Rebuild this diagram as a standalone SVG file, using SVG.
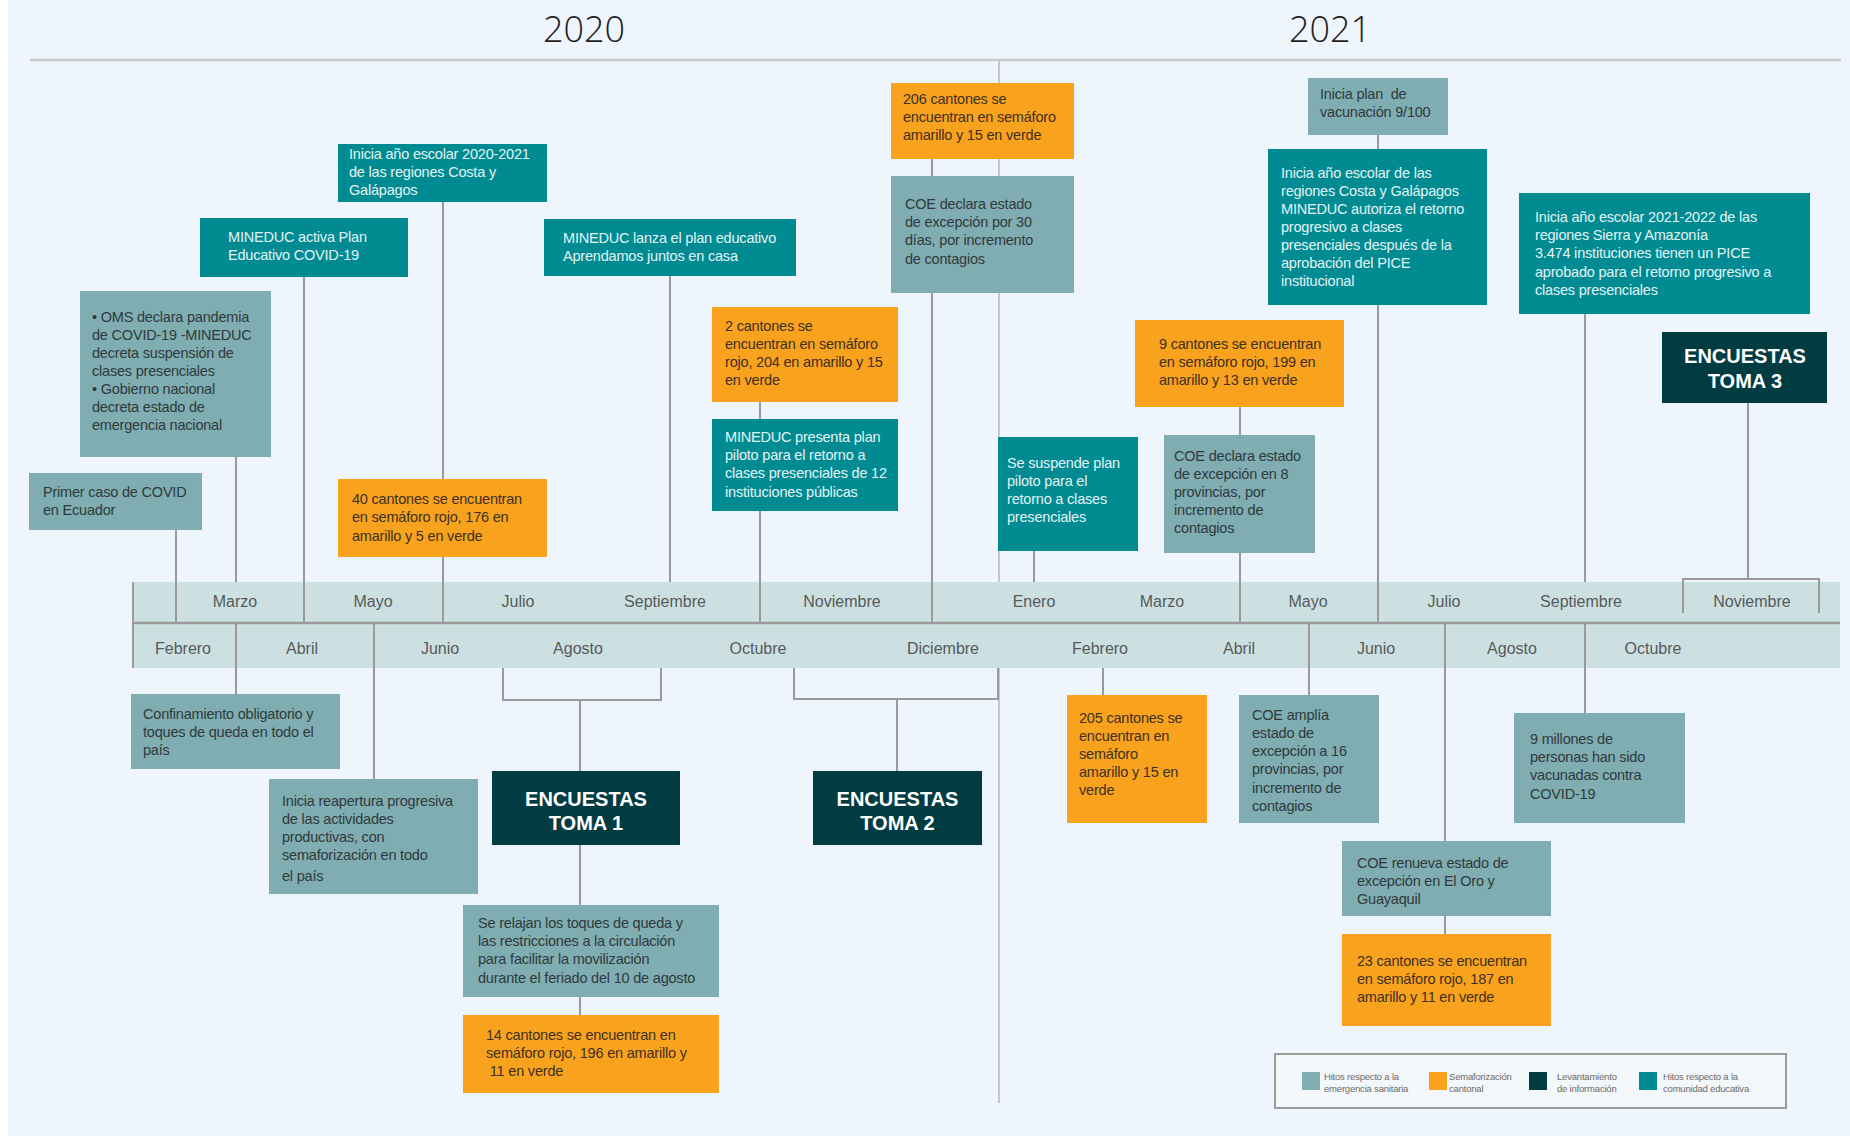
<svg xmlns="http://www.w3.org/2000/svg" width="1850" height="1136" viewBox="0 0 1850 1136">
<style>
.t{font-family:"Liberation Sans",Arial,sans-serif;font-size:14.5px;letter-spacing:-0.2px}
.dk{fill:#2f3a3c}
.lt{fill:#e3f3f3}
.or{fill:#3e3120}
.hd{font-family:"Liberation Sans",Arial,sans-serif;font-size:20px;font-weight:bold;fill:#ffffff;text-anchor:middle}
.mo{font-family:"Liberation Sans",Arial,sans-serif;font-size:16px;fill:#555a5c;text-anchor:middle}
.yr{font-family:"Open Sans","Liberation Sans",sans-serif;font-size:36px;font-weight:300;fill:#1e1e1e;text-anchor:middle}
.lg{font-family:"Liberation Sans",Arial,sans-serif;font-size:9.5px;fill:#6a6a6a;letter-spacing:-0.2px}
.g{fill:#7fadb1}
.o{fill:#f8a21e}
.d{fill:#013c43}
.e{fill:#008b93}
.c{stroke:#9a9a9a;stroke-width:2;fill:none}
</style>
<rect x="0" y="0" width="1850" height="1136" fill="#ffffff"/>
<rect x="8" y="0" width="1842" height="1136" fill="#eef5fc"/>
<line x1="30" y1="60" x2="1841" y2="60" stroke="#c8c9ca" stroke-width="2.5"/>
<text class="yr" x="584" y="42">2020</text>
<text class="yr" x="1330" y="42">2021</text>
<line x1="999" y1="60" x2="999" y2="1103" stroke="#c3c7ca" stroke-width="2"/>

<g id="timeline">
<rect x="133" y="582" width="1707" height="86" fill="#cde0e1"/>
<line x1="133" y1="623" x2="1840" y2="623" stroke="#9a9a9a" stroke-width="2.5"/>
<line x1="133" y1="582" x2="133" y2="668" stroke="#9a9a9a" stroke-width="2"/>
<text class="mo" x="235" y="607">Marzo</text>
<text class="mo" x="373" y="607">Mayo</text>
<text class="mo" x="518" y="607">Julio</text>
<text class="mo" x="665" y="607">Septiembre</text>
<text class="mo" x="842" y="607">Noviembre</text>
<text class="mo" x="1034" y="607">Enero</text>
<text class="mo" x="1162" y="607">Marzo</text>
<text class="mo" x="1308" y="607">Mayo</text>
<text class="mo" x="1444" y="607">Julio</text>
<text class="mo" x="1581" y="607">Septiembre</text>
<text class="mo" x="1752" y="607">Noviembre</text>
<text class="mo" x="183" y="654">Febrero</text>
<text class="mo" x="302" y="654">Abril</text>
<text class="mo" x="440" y="654">Junio</text>
<text class="mo" x="578" y="654">Agosto</text>
<text class="mo" x="758" y="654">Octubre</text>
<text class="mo" x="943" y="654">Diciembre</text>
<text class="mo" x="1100" y="654">Febrero</text>
<text class="mo" x="1239" y="654">Abril</text>
<text class="mo" x="1376" y="654">Junio</text>
<text class="mo" x="1512" y="654">Agosto</text>
<text class="mo" x="1653" y="654">Octubre</text>
</g>

<g id="connectors" class="c">
<path d="M443 202V479M443 557V623"/>
<path d="M304 277V623"/>
<path d="M236 457V582M236 623V694"/>
<path d="M176 530V623"/>
<path d="M374 623V779"/>
<path d="M503 668V700H661V668M580 700V771M580 845V905M580 997V1015"/>
<path d="M670 276V582"/>
<path d="M760 402V419M760 511V623"/>
<path d="M932 159V176M932 293V623"/>
<path d="M1034 551V582"/>
<path d="M1240 407V435M1240 553V623"/>
<path d="M1378 135V149M1378 305V623"/>
<path d="M1585 314V582M1585 623V713"/>
<path d="M1748 403V579M1683 613V579H1819V613"/>
<path d="M794 668V699H998V668M897 699V771"/>
<path d="M1103 668V695"/>
<path d="M1309 623V695"/>
<path d="M1445 623V841M1445 916V934"/>
</g>

<g id="n1"><rect class="e" x="338" y="144" width="209" height="58"/>
<text class="t lt"><tspan x="349" y="159">Inicia año escolar 2020-2021</tspan><tspan x="349" y="177">de las regiones Costa y</tspan><tspan x="349" y="195">Galápagos</tspan></text></g>

<g id="n2"><rect class="e" x="200" y="218" width="208" height="59"/>
<text class="t lt"><tspan x="228" y="242">MINEDUC activa Plan</tspan><tspan x="228" y="260">Educativo COVID-19</tspan></text></g>

<g id="n3"><rect class="g" x="80" y="291" width="191" height="166"/>
<text class="t dk"><tspan x="92" y="322">• OMS declara pandemia</tspan><tspan x="92" y="340">de COVID-19 -MINEDUC</tspan><tspan x="92" y="358">decreta suspensión de</tspan><tspan x="92" y="376">clases presenciales</tspan><tspan x="92" y="394">• Gobierno nacional</tspan><tspan x="92" y="412">decreta estado de</tspan><tspan x="92" y="430">emergencia nacional</tspan></text></g>

<g id="n4"><rect class="g" x="29" y="473" width="173" height="57"/>
<text class="t dk"><tspan x="43" y="497">Primer caso de COVID</tspan><tspan x="43" y="515">en Ecuador</tspan></text></g>

<g id="n5"><rect class="o" x="338" y="479" width="209" height="78"/>
<text class="t or"><tspan x="352" y="504">40 cantones se encuentran</tspan><tspan x="352" y="522">en semáforo rojo, 176 en</tspan><tspan x="352" y="541">amarillo y 5 en verde</tspan></text></g>

<g id="n6"><rect class="g" x="131" y="694" width="209" height="75"/>
<text class="t dk"><tspan x="143" y="719">Confinamiento obligatorio y</tspan><tspan x="143" y="737">toques de queda  en todo el</tspan><tspan x="143" y="755">país</tspan></text></g>

<g id="n7"><rect class="g" x="269" y="779" width="209" height="115"/>
<text class="t dk"><tspan x="282" y="806">Inicia reapertura progresiva</tspan><tspan x="282" y="824">de las actividades</tspan><tspan x="282" y="842">productivas, con</tspan><tspan x="282" y="860">semaforización en todo</tspan><tspan x="282" y="881">el país</tspan></text></g>

<g id="toma1"><rect class="d" x="492" y="771" width="188" height="74"/>
<text class="hd"><tspan x="586" y="806">ENCUESTAS</tspan><tspan x="586" y="830">TOMA 1</tspan></text></g>

<g id="n9"><rect class="g" x="463" y="905" width="256" height="92"/>
<text class="t dk"><tspan x="478" y="928">Se relajan los toques de queda y</tspan><tspan x="478" y="946">las restricciones a la circulación</tspan><tspan x="478" y="964">para facilitar la movilización</tspan><tspan x="478" y="983">durante el feriado del 10 de agosto</tspan></text></g>

<g id="n10"><rect class="o" x="463" y="1015" width="256" height="78"/>
<text class="t or" xml:space="preserve"><tspan x="486" y="1040">14 cantones se encuentran en</tspan><tspan x="486" y="1058">semáforo rojo, 196 en amarillo y</tspan><tspan x="486" y="1076"> 11 en verde</tspan></text></g>

<g id="n11"><rect class="e" x="544" y="219" width="252" height="57"/>
<text class="t lt"><tspan x="563" y="243">MINEDUC lanza el plan educativo</tspan><tspan x="563" y="261">Aprendamos juntos en casa</tspan></text></g>

<g id="n12"><rect class="o" x="712" y="307" width="186" height="95"/>
<text class="t or"><tspan x="725" y="331">2 cantones se</tspan><tspan x="725" y="349">encuentran en semáforo</tspan><tspan x="725" y="367">rojo, 204 en amarillo y 15</tspan><tspan x="725" y="385">en verde</tspan></text></g>

<g id="n13"><rect class="e" x="712" y="419" width="186" height="92"/>
<text class="t lt"><tspan x="725" y="442">MINEDUC presenta plan</tspan><tspan x="725" y="460">piloto para el retorno a</tspan><tspan x="725" y="478">clases presenciales de 12</tspan><tspan x="725" y="497">instituciones públicas</tspan></text></g>

<g id="n14"><rect class="o" x="891" y="83" width="183" height="76"/>
<text class="t or"><tspan x="903" y="104">206 cantones se</tspan><tspan x="903" y="122">encuentran en semáforo</tspan><tspan x="903" y="140">amarillo y 15 en verde</tspan></text></g>

<g id="n15"><rect class="g" x="891" y="176" width="183" height="117"/>
<text class="t dk"><tspan x="905" y="209">COE declara estado</tspan><tspan x="905" y="227">de excepción por 30</tspan><tspan x="905" y="245">días, por incremento</tspan><tspan x="905" y="264">de contagios</tspan></text></g>

<g id="toma2"><rect class="d" x="813" y="771" width="169" height="74"/>
<text class="hd"><tspan x="897.5" y="806">ENCUESTAS</tspan><tspan x="897.5" y="830">TOMA 2</tspan></text></g>

<g id="n16"><rect class="e" x="998" y="437" width="140" height="114"/>
<text class="t lt"><tspan x="1007" y="468">Se suspende plan</tspan><tspan x="1007" y="486">piloto para el</tspan><tspan x="1007" y="504">retorno a clases</tspan><tspan x="1007" y="522">presenciales</tspan></text></g>

<g id="n17"><rect class="o" x="1135" y="320" width="209" height="87"/>
<text class="t or"><tspan x="1159" y="349">9 cantones se encuentran</tspan><tspan x="1159" y="367">en semáforo rojo, 199 en</tspan><tspan x="1159" y="385">amarillo y 13 en verde</tspan></text></g>

<g id="n18"><rect class="g" x="1164" y="435" width="151" height="118"/>
<text class="t dk"><tspan x="1174" y="461">COE declara estado</tspan><tspan x="1174" y="479">de excepción en 8</tspan><tspan x="1174" y="497">provincias, por</tspan><tspan x="1174" y="515">incremento de</tspan><tspan x="1174" y="533">contagios</tspan></text></g>

<g id="n19"><rect class="g" x="1308" y="78" width="140" height="57"/>
<text class="t dk" xml:space="preserve"><tspan x="1320" y="99">Inicia plan  de</tspan><tspan x="1320" y="117">vacunación 9/100</tspan></text></g>

<g id="n20"><rect class="e" x="1268" y="149" width="219" height="156"/>
<text class="t lt"><tspan x="1281" y="178">Inicia año escolar de las</tspan><tspan x="1281" y="196">regiones Costa y Galápagos</tspan><tspan x="1281" y="214">MINEDUC autoriza el retorno</tspan><tspan x="1281" y="232">progresivo a clases</tspan><tspan x="1281" y="250">presenciales después de la</tspan><tspan x="1281" y="268">aprobación del PICE</tspan><tspan x="1281" y="286">institucional</tspan></text></g>

<g id="n21"><rect class="e" x="1519" y="193" width="291" height="121"/>
<text class="t lt"><tspan x="1535" y="222">Inicia año escolar 2021-2022 de las</tspan><tspan x="1535" y="240">regiones Sierra y Amazonía</tspan><tspan x="1535" y="258">3.474 instituciones tienen un PICE</tspan><tspan x="1535" y="277">aprobado para el retorno progresivo a</tspan><tspan x="1535" y="295">clases presenciales</tspan></text></g>

<g id="toma3"><rect class="d" x="1662" y="332" width="165" height="71"/>
<text class="hd"><tspan x="1745" y="363">ENCUESTAS</tspan><tspan x="1745" y="388">TOMA 3</tspan></text></g>

<g id="n23"><rect class="o" x="1067" y="695" width="140" height="128"/>
<text class="t or"><tspan x="1079" y="723">205 cantones se</tspan><tspan x="1079" y="741">encuentran en</tspan><tspan x="1079" y="759">semáforo</tspan><tspan x="1079" y="777">amarillo y 15 en</tspan><tspan x="1079" y="795">verde</tspan></text></g>

<g id="n24"><rect class="g" x="1239" y="695" width="140" height="128"/>
<text class="t dk"><tspan x="1252" y="720">COE amplía</tspan><tspan x="1252" y="738">estado de</tspan><tspan x="1252" y="756">excepción a 16</tspan><tspan x="1252" y="774">provincias, por</tspan><tspan x="1252" y="793">incremento de</tspan><tspan x="1252" y="811">contagios</tspan></text></g>

<g id="n25"><rect class="g" x="1514" y="713" width="171" height="110"/>
<text class="t dk"><tspan x="1530" y="744">9 millones de</tspan><tspan x="1530" y="762">personas han sido</tspan><tspan x="1530" y="780">vacunadas contra</tspan><tspan x="1530" y="799">COVID-19</tspan></text></g>

<g id="n26"><rect class="g" x="1342" y="841" width="209" height="75"/>
<text class="t dk"><tspan x="1357" y="868">COE renueva estado de</tspan><tspan x="1357" y="886">excepción en El Oro y</tspan><tspan x="1357" y="904">Guayaquil</tspan></text></g>

<g id="n27"><rect class="o" x="1342" y="934" width="209" height="92"/>
<text class="t or"><tspan x="1357" y="966">23 cantones se encuentran</tspan><tspan x="1357" y="984">en semáforo rojo, 187 en</tspan><tspan x="1357" y="1002">amarillo y 11 en verde</tspan></text></g>

<g id="legend">
<rect x="1275" y="1054" width="511" height="54" fill="#f3f7fa" stroke="#9c9c9c" stroke-width="2"/>
<rect class="g" x="1302" y="1072" width="18" height="18"/>
<text class="lg"><tspan x="1324" y="1080">Hitos respecto a la</tspan><tspan x="1324" y="1092">emergencia sanitaria</tspan></text>
<rect class="o" x="1429" y="1072" width="18" height="18"/>
<text class="lg"><tspan x="1449" y="1080">Semaforización</tspan><tspan x="1449" y="1092">cantonal</tspan></text>
<rect class="d" x="1529" y="1072" width="18" height="18"/>
<text class="lg"><tspan x="1557" y="1080">Levantamiento</tspan><tspan x="1557" y="1092">de información</tspan></text>
<rect class="e" x="1639" y="1072" width="18" height="18"/>
<text class="lg"><tspan x="1663" y="1080">Hitos respecto a la</tspan><tspan x="1663" y="1092">comunidad educativa</tspan></text>
</g>
</svg>
